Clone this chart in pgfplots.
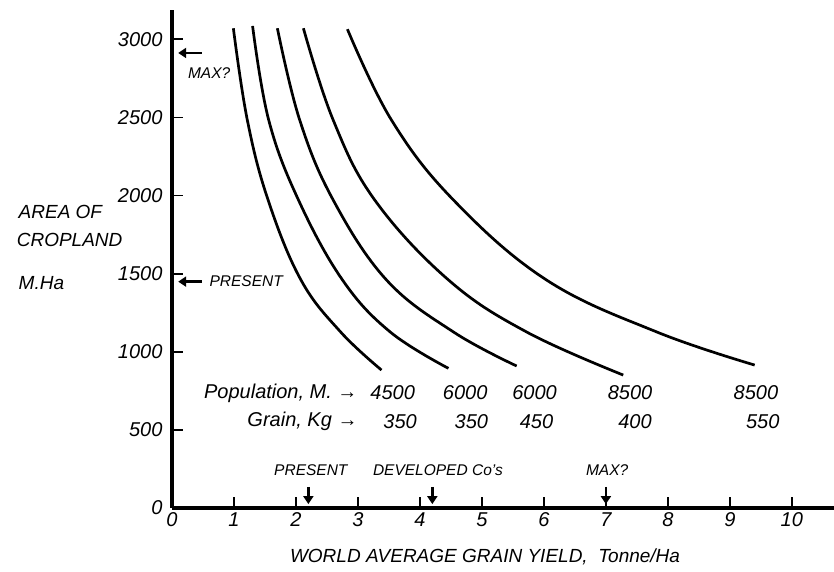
\documentclass[border=0pt]{standalone}
\usepackage{fontspec}
\setmainfont{Liberation Sans}
\usepackage{pgfplots}
\pgfplotsset{compat=1.18}
\usetikzlibrary{arrows.meta}

\begin{document}
\begin{tikzpicture}[
    font=\itshape\fontsize{19}{21}\selectfont,
    note/.style={font=\itshape\fontsize{15.5}{17}\selectfont},
    row/.style={font=\itshape\fontsize{20}{22}\selectfont},
    harrow/.style={line width=2.4pt, -{Triangle[length=8pt,width=10pt]}},
    curve/.style={black, no markers, line width=2.7pt, smooth, tension=0.65},
  ]
  \begin{axis}[
      scale only axis,
      width=662pt, height=498pt,
      xmin=0, xmax=10.68,
      ymin=0, ymax=3188,
      axis lines=left,
      axis line style={-, line width=3.2pt},
      xtick={0,1,...,10},
      ytick={0,500,...,3000},
      tick align=inside,
      major tick length=11pt,
      tick style={line width=1.8pt, black},
      tick label style={font=\itshape\fontsize{20}{22}\selectfont},
      /pgf/number format/assume math mode=true,
      /pgf/number format/1000 sep={},
      xticklabel style={yshift=-1pt},
      yticklabel style={xshift=-6pt},
      clip=false,
    ]
    % curves (yield, area)
    \addplot[curve] coordinates {
      (0.99,3071) (1.215,2484) (1.55,1972) (2.08,1460) (2.72,1127) (3.38,883)};
    \addplot[curve] coordinates {
      (1.30,3086) (1.56,2484) (2.04,1972) (2.75,1460) (3.52,1127) (4.46,894)};
    \addplot[curve] coordinates {
      (1.70,3071) (2.06,2484) (2.60,1972) (3.46,1460) (4.54,1127) (5.56,909)};
    \addplot[curve] coordinates {
      (2.12,3071) (2.60,2484) (3.27,1972) (4.46,1460) (5.72,1127) (7.28,851)};
    \addplot[curve] coordinates {
      (2.83,3065) (3.54,2484) (4.54,1972) (6.04,1460) (7.82,1127) (9.40,915)};

    % population and grain rows
    \node[row, anchor=east] at (axis cs:3.05,736) {Population, M. →};
    \node[row, anchor=east] at (axis cs:3.05,553) {Grain, Kg →};
    \node[row] at (axis cs:3.56,736) {4500};
    \node[row] at (axis cs:4.73,736) {6000};
    \node[row] at (axis cs:5.85,736) {6000};
    \node[row] at (axis cs:7.39,736) {8500};
    \node[row] at (axis cs:9.42,736) {8500};
    \node[row] at (axis cs:3.68,553) {350};
    \node[row] at (axis cs:4.83,553) {350};
    \node[row] at (axis cs:5.88,553) {450};
    \node[row] at (axis cs:7.47,553) {400};
    \node[row] at (axis cs:9.53,553) {550};

    % y-axis markers
    \draw[harrow] (axis cs:0.48,2913) -- (axis cs:0.10,2913);
    \node[note] at (axis cs:0.60,2785) {MAX?};
    \draw[harrow] (axis cs:0.48,1449) -- (axis cs:0.10,1449);
    \node[note, anchor=west] at (axis cs:0.55,1449) {PRESENT};

    % x-axis markers
    \draw[harrow] (axis cs:2.2,135) -- (axis cs:2.2,25);
    \draw[harrow] (axis cs:4.2,135) -- (axis cs:4.2,25);
    \draw[harrow] (axis cs:7.0,135) -- (axis cs:7.0,25);
    \node[note] at (axis cs:2.24,243) {PRESENT};
    \node[note] at (axis cs:4.29,243) {DEVELOPED Co's};
    \node[note] at (axis cs:7.02,243) {MAX?};

    % axis titles
    \node[anchor=west] at (axis cs:-2.53,1895) {AREA OF};
    \node[anchor=west] at (axis cs:-2.56,1716) {CROPLAND};
    \node[anchor=west] at (axis cs:-2.53,1440) {M.Ha};
    \node at (axis cs:5.05,-315) {WORLD AVERAGE GRAIN YIELD, \ Tonne/Ha};
  \end{axis}
  \pgfresetboundingbox
  \path[use as bounding box] (-172pt,-64pt) rectangle (662pt,508pt);
\end{tikzpicture}
\end{document}
